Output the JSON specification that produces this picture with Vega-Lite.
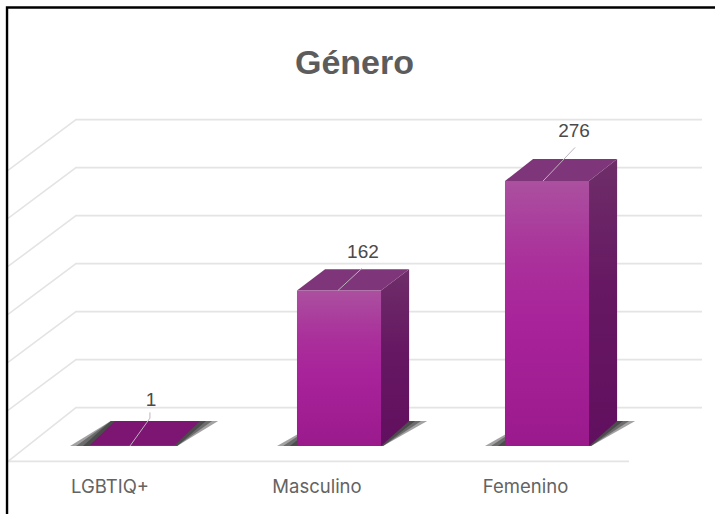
{"$schema":"https://vega.github.io/schema/vega-lite/v6.json","width":715,"height":514,"padding":0,"autosize":{"type":"none"},"background":"white",
"title":{"text":"Género","anchor":"middle","frame":"group","offset":-108,"baseline":"alphabetic","dx":-3,"fontSize":34,"fontWeight":"bold","font":"Liberation Sans","color":"#5c5c5c"},
"config":{"view":{"stroke":null}},
"datasets":{
"grid":[
{"s":"g340","k":1,"pos":-0.5913,"value":287},{"s":"g340","k":2,"pos":-0.2644,"value":340},{"s":"g340","k":3,"pos":2.7452,"value":340},
{"s":"g290","k":1,"pos":-0.5913,"value":237},{"s":"g290","k":2,"pos":-0.2644,"value":290},{"s":"g290","k":3,"pos":2.7452,"value":290},
{"s":"g240","k":1,"pos":-0.5913,"value":187},{"s":"g240","k":2,"pos":-0.2644,"value":240},{"s":"g240","k":3,"pos":2.7452,"value":240},
{"s":"g190","k":1,"pos":-0.5913,"value":137},{"s":"g190","k":2,"pos":-0.2644,"value":190},{"s":"g190","k":3,"pos":2.7452,"value":190},
{"s":"g140","k":1,"pos":-0.5913,"value":87},{"s":"g140","k":2,"pos":-0.2644,"value":140},{"s":"g140","k":3,"pos":2.7452,"value":140},
{"s":"g90","k":1,"pos":-0.5913,"value":37},{"s":"g90","k":2,"pos":-0.2644,"value":90},{"s":"g90","k":3,"pos":2.7452,"value":90},
{"s":"g40","k":1,"pos":-0.5913,"value":-16},{"s":"g40","k":2,"pos":-0.2644,"value":40},{"s":"g40","k":3,"pos":2.7452,"value":40},
{"s":"floor","k":1,"pos":-0.5913,"value":-16},{"s":"floor","k":2,"pos":2.3942,"value":-16}],
"frame":[{"k":1,"pos":-0.596,"value":-70.8},{"k":2,"pos":-0.596,"value":456.8},{"k":3,"pos":2.8077,"value":456.8}],
"shadow":[
{"s":"L1","value":0,"pos":-0.293,"pos2":0.222},{"s":"L1","value":26,"pos":-0.097,"pos2":0.419},
{"s":"L2","value":0,"pos":-0.264,"pos2":0.222},{"s":"L2","value":26,"pos":-0.097,"pos2":0.39},
{"s":"L3","value":0,"pos":-0.231,"pos2":0.222},{"s":"L3","value":26,"pos":-0.097,"pos2":0.361},
{"s":"M1","value":0,"pos":0.702,"pos2":1.212},{"s":"M1","value":26,"pos":0.913,"pos2":1.424},
{"s":"M2","value":0,"pos":0.731,"pos2":1.212},{"s":"M2","value":26,"pos":0.913,"pos2":1.395},
{"s":"M3","value":0,"pos":0.764,"pos2":1.212},{"s":"M3","value":26,"pos":0.913,"pos2":1.366},
{"s":"F1","value":0,"pos":1.702,"pos2":2.212},{"s":"F1","value":26,"pos":1.913,"pos2":2.424},
{"s":"F2","value":0,"pos":1.731,"pos2":2.212},{"s":"F2","value":26,"pos":1.913,"pos2":2.395},
{"s":"F3","value":0,"pos":1.764,"pos2":2.212},{"s":"F3","value":26,"pos":1.913,"pos2":2.366}],
"side":[
{"genero":"Masculino","pos":1.202,"value":162,"value2":0},{"genero":"Masculino","pos":1.337,"value":184,"value2":26},
{"genero":"Femenino","pos":2.202,"value":276,"value2":0},{"genero":"Femenino","pos":2.337,"value":299,"value2":26}],
"top":[
{"genero":"Masculino","value":162,"pos":0.798,"pos2":1.202},{"genero":"Masculino","value":184,"pos":0.933,"pos2":1.337},
{"genero":"Femenino","value":276,"pos":1.798,"pos2":2.202},{"genero":"Femenino","value":299,"pos":1.933,"pos2":2.337}],
"flat":[{"genero":"LGBTIQ+","value":1,"pos":-0.197,"pos2":0.212},{"genero":"LGBTIQ+","value":26,"pos":-0.077,"pos2":0.332}],
"front":[{"genero":"Masculino","pos":0.798,"pos2":1.202,"value":162,"value2":0},{"genero":"Femenino","pos":1.798,"pos2":2.202,"value":276,"value2":0}],
"leader":[
{"s":"L","k":1,"pos":-0.005,"value":0},{"s":"L","k":2,"pos":0.091,"value":29},{"s":"L","k":3,"pos":0.091,"value":35},
{"s":"M","k":1,"pos":0.995,"value":162},{"s":"M","k":2,"pos":1.11,"value":185},
{"s":"F","k":1,"pos":1.981,"value":276},{"s":"F","k":2,"pos":2.135,"value":311}],
"labels":[{"t":"1","pos":0.096,"value":48},{"t":"162","pos":1.115,"value":202},{"t":"276","pos":2.13,"value":328}],
"cats":[{"t":"LGBTIQ+","pos":-0.101,"value":-42.7},{"t":"Masculino","pos":0.894,"value":-42.7},{"t":"Femenino","pos":1.897,"value":-42.7}]
},
"encoding":{
"x":{"field":"pos","type":"quantitative","axis":null,"scale":{"domain":[-0.6298,2.8077],"nice":false,"zero":false}},
"y":{"field":"value","type":"quantitative","axis":null,"scale":{"domain":[-70.83,464.58],"nice":false,"zero":false}}
},
"layer":[
{"data":{"name":"grid"},"mark":{"type":"line","color":"#e4e4e4","strokeWidth":1.6},"encoding":{"detail":{"field":"s"},"order":{"field":"k"}}},
{"data":{"name":"frame"},"mark":{"type":"line","color":"#000000","strokeWidth":2.4},"encoding":{"order":{"field":"k"}}},
{"data":{"name":"shadow"},"mark":{"type":"area","orient":"horizontal","color":"#222222","opacity":0.42},"encoding":{"x2":{"field":"pos2"},"detail":{"field":"s"}}},
{"data":{"name":"side"},"mark":{"type":"area","color":{"gradient":"linear","x1":0,"y1":0,"x2":0,"y2":1,"stops":[{"offset":0,"color":"#6E2E69"},{"offset":0.45,"color":"#661862"},{"offset":1,"color":"#610F5F"}]}},"encoding":{"y2":{"field":"value2"},"detail":{"field":"genero"}}},
{"data":{"name":"top"},"mark":{"type":"area","orient":"horizontal","color":"#7E3579"},"encoding":{"x2":{"field":"pos2"},"detail":{"field":"genero"}}},
{"data":{"name":"flat"},"mark":{"type":"area","orient":"horizontal","color":"#7D1573"},"encoding":{"x2":{"field":"pos2"},"detail":{"field":"genero"}}},
{"data":{"name":"front"},"mark":{"type":"rect","color":{"gradient":"linear","x1":0,"y1":0,"x2":0,"y2":1,"stops":[{"offset":0,"color":"#AB509F"},{"offset":0.3,"color":"#AA309B"},{"offset":0.55,"color":"#A8229A"},{"offset":1,"color":"#9A1A8C"}]}},"encoding":{"x2":{"field":"pos2"},"y2":{"field":"value2"}}},
{"data":{"name":"leader"},"mark":{"type":"line","color":"#bdb3bc","strokeWidth":1},"encoding":{"detail":{"field":"s"},"order":{"field":"k"}}},
{"data":{"name":"labels"},"mark":{"type":"text","font":"Liberation Sans","fontSize":19,"color":"#4a4a4a","baseline":"middle","align":"center"},"encoding":{"text":{"field":"t"}}},
{"data":{"name":"cats"},"mark":{"type":"text","font":"Inter","fontSize":18.5,"color":"#636363","baseline":"middle","align":"center"},"encoding":{"text":{"field":"t"}}}
]}
